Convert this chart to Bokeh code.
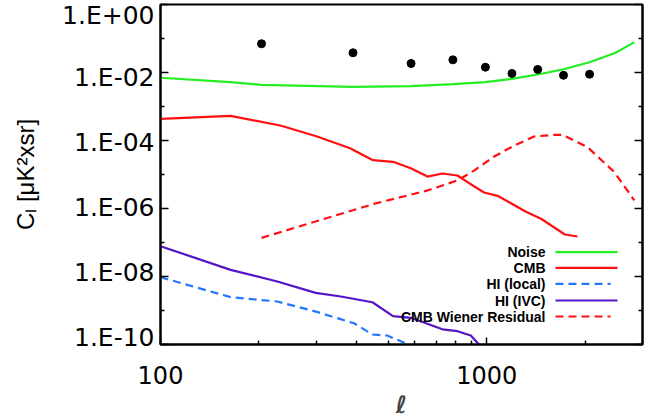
from bokeh.plotting import figure
from bokeh.models import Range1d, FixedTicker, LogAxis, LogScale, Label, Arrow
from bokeh.embed import file_html
from bokeh.resources import INLINE

# ---------------- data ----------------
noise_l = [100, 164, 204, 389, 586, 787, 990, 1194, 1432, 1718, 2065, 2483, 2832]
noise_c = [7.0e-3, 5.2e-3, 4.35e-3, 3.8e-3, 3.96e-3, 4.53e-3, 5.19e-3, 6.53e-3,
           8.74e-3, 1.25e-2, 2.01e-2, 3.8e-2, 7.8e-2]

cmb_l = [100, 164, 233, 302, 381, 448, 516, 585, 658, 731, 813, 883, 981, 1079,
         1186, 1318, 1466, 1735, 1897]
cmb_c = [4.35e-4, 5.3e-4, 2.76e-4, 1.31e-4, 5.9e-5, 2.64e-5, 2.36e-5, 1.53e-5,
         8.7e-6, 1.07e-5, 9.35e-6, 5.55e-6, 2.96e-6, 2.36e-6, 1.43e-6, 8.0e-7,
         5.0e-7, 1.72e-7, 1.5e-7]

wiener_l = [204, 451, 658, 813, 914, 1054, 1213, 1396, 1607, 1706, 2037, 2461, 2832]
wiener_c = [1.37e-7, 1.37e-6, 3.4e-6, 6.7e-6, 1.3e-5, 3.4e-5, 7.1e-5, 1.31e-4,
            1.47e-4, 1.47e-4, 6.35e-5, 1.17e-5, 1.72e-6]

hi_ivc_l = [100, 164, 228, 299, 357, 446, 516, 585, 731, 813, 893, 953]
hi_ivc_c = [7.8e-8, 1.57e-8, 7.1e-9, 3.3e-9, 2.58e-9, 1.75e-9, 6.8e-10, 6.1e-10,
            2.8e-10, 2.46e-10, 1.84e-10, 9.3e-11]

hi_loc_l = [100, 164, 228, 299, 392, 446, 495, 585]
hi_loc_c = [9.5e-9, 2.47e-9, 1.84e-9, 9.3e-10, 4.2e-10, 1.97e-10, 1.84e-10, 9.3e-11]

pts_l = [204, 389, 586, 787, 990, 1194, 1432, 1718, 2065]
pts_c = [0.070, 0.038, 0.0184, 0.0236, 0.0143, 0.00935, 0.0123, 0.0083, 0.0089]
err_l = [204]
err_lo = [0.056]
err_hi = [0.088]

x_major = [100, 1000]
x_minor = [200, 300, 400, 500, 600, 700, 800, 900, 2000, 3000]
x_tick_labels = ["100", "1000"]
y_major = [1.0, 1e-2, 1e-4, 1e-6, 1e-8, 1e-10]
y_minor = [1e-1, 1e-3, 1e-5, 1e-7, 1e-9]
y_tick_labels = ["1.E+00", "1.E-02", "1.E-04", "1.E-06", "1.E-08", "1.E-10"]

legend_names = ["Noise", "CMB", "HI (local)", "HI (IVC)", "CMB Wiener Residual"]
GREEN, RED, BLUE, PURPLE = "#22ee22", "#ff1010", "#2277ff", "#5514c8"
legend_colors = [GREEN, RED, BLUE, PURPLE, RED]
legend_dash = ["solid", "solid", "8 5", "solid", "8 5"]

FONT = "Liberation Sans"
TICKFONT = "DejaVu Sans"

p = figure(frame_width=482, frame_height=340,
           x_axis_type="log", y_axis_type="log",
           x_range=Range1d(100, 3000), y_range=Range1d(1e-10, 1.0),
           output_backend="svg", toolbar_location=None,
           min_border_left=160, min_border_right=6,
           min_border_top=4, min_border_bottom=70)
p.grid.visible = False
p.outline_line_color = "black"
p.outline_line_width = 2
p.background_fill_color = "white"
p.border_fill_color = "white"

# x axis
xa = p.xaxis[0]
xa.ticker = FixedTicker(ticks=x_major, minor_ticks=x_minor)
xa.major_label_overrides = dict(zip(x_major, x_tick_labels))
xa.major_tick_in = 7
xa.major_tick_out = 0
xa.minor_tick_in = 4
xa.minor_tick_out = 0
xa.axis_line_width = 2
xa.major_tick_line_width = 1.5
xa.minor_tick_line_width = 1.5
xa.major_label_text_font = TICKFONT
xa.major_label_text_font_size = "24px"
xa.major_label_text_color = "black"
xa.major_label_standoff = 21
xa.axis_label = "ℓ"
xa.axis_label_text_font = "DejaVu Sans"
xa.axis_label_text_font_style = "bold italic"
xa.axis_label_text_font_size = "24px"
xa.axis_label_standoff = 4

# y axis (left): ticks only
ya = p.yaxis[0]
ya.ticker = FixedTicker(ticks=y_major, minor_ticks=y_minor)
ya.major_tick_in = 8
ya.major_tick_out = 0
ya.minor_tick_in = 4
ya.minor_tick_out = 0
ya.axis_line_width = 2
ya.major_tick_line_width = 1.5
ya.minor_tick_line_width = 1.5
ya.major_label_text_font_size = "2px"
ya.major_label_text_alpha = 0
ya.major_label_standoff = 0

# y tick labels + title on a slightly compressed label range
p.extra_y_ranges = {"lab": Range1d(5.92e-11, 1.726)}
p.extra_y_scales = {"lab": LogScale()}
yl = LogAxis(y_range_name="lab", ticker=FixedTicker(ticks=y_major, minor_ticks=[]),
             major_label_overrides=dict(zip(y_major, y_tick_labels)),
             axis_line_color=None, major_tick_line_color=None, minor_tick_line_color=None,
             major_tick_in=0, major_tick_out=0, minor_tick_in=0, minor_tick_out=0,
             major_label_standoff=6, major_label_text_font=TICKFONT,
             major_label_text_font_size="25px", major_label_text_color="black",
             axis_label="Cₗ [μK²xsr]", axis_label_text_font=FONT,
             axis_label_text_font_style="normal", axis_label_text_font_size="24px",
             axis_label_standoff=20, axis_label_text_color="black")
p.add_layout(yl, "left")

ra = LogAxis(ticker=FixedTicker(ticks=y_major, minor_ticks=y_minor),
             major_tick_in=8, major_tick_out=0, minor_tick_in=4, minor_tick_out=0,
             axis_line_width=2, major_tick_line_width=1.5, minor_tick_line_width=1.5,
             major_label_text_font_size="2px", major_label_text_alpha=0,
             major_label_standoff=0)
p.add_layout(ra, "right")

# curves
p.line(noise_l, noise_c, line_color=GREEN, line_width=2.2)
p.line(cmb_l, cmb_c, line_color=RED, line_width=2.2)
p.line(wiener_l, wiener_c, line_color=RED, line_width=2.2, line_dash="8 5")
p.line(hi_loc_l, hi_loc_c, line_color=BLUE, line_width=2.2, line_dash="8 5")
p.line(hi_ivc_l, hi_ivc_c, line_color=PURPLE, line_width=2.2)
p.segment(x0=err_l, y0=err_lo, x1=err_l, y1=err_hi, line_color="black", line_width=6)
p.scatter(pts_l, pts_c, size=8, color="black")

# legend (frame-relative screen units)
rows_y = [92.3, 76.7, 60.7, 44, 28]
for name, col, dash, yy in zip(legend_names, legend_colors, legend_dash, rows_y):
    p.add_layout(Label(x=385, y=yy, x_units="screen", y_units="screen", text=name,
                       text_align="right", text_baseline="middle",
                       text_font=FONT, text_font_style="bold", text_font_size="14px",
                       text_color="black"))
    x_end = 457 if dash == "solid" else 450
    p.add_layout(Arrow(end=None, x_start=395, y_start=yy, x_end=x_end, y_end=yy,
                       start_units="screen", end_units="screen",
                       line_color=col, line_width=2.2, line_dash=dash))

open("out.html", "w").write(file_html(p, INLINE))
